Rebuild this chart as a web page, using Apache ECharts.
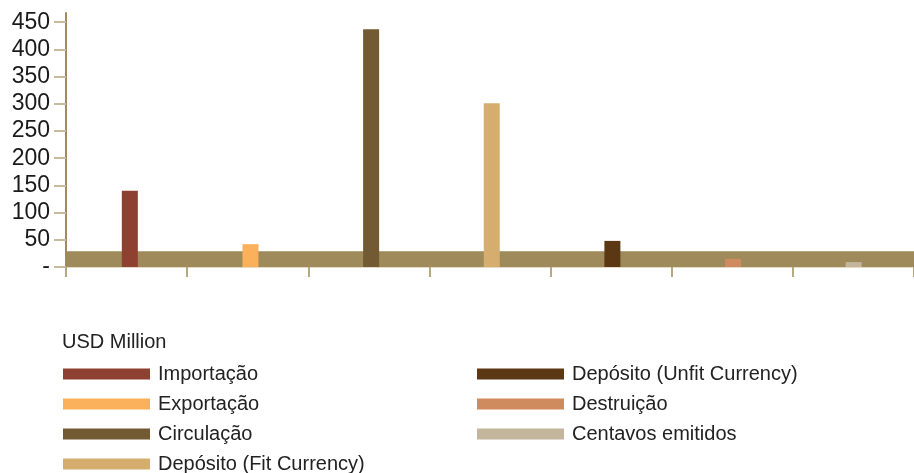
<!DOCTYPE html>
<html>
<head>
<meta charset="utf-8">
<script src="https://cdn.jsdelivr.net/npm/echarts@6/dist/echarts.min.js"></script>
<style>
  html, body { margin: 0; padding: 0; background: #ffffff; }
  #chart { width: 914px; height: 473px; }
</style>
</head>
<body>
<div id="chart"></div>
<script>
// Series names, in legend order
const seriesNames = [
  'Importação',
  'Exportação',
  'Circulação',
  'Depósito (Fit Currency)',
  'Depósito (Unfit Currency)',
  'Destruição',
  'Centavos emitidos'
];
// One value per series (USD Million)
const seriesValues = [140, 42, 437, 301, 48, 15, 9];
// Background band level
const bandValue = 29;
// Y axis tick values
const yTicks = [0, 50, 100, 150, 200, 250, 300, 350, 400, 450];
const seriesColors = ['#8f4131', '#fbb05b', '#725a32', '#d4ad6f', '#5c3714', '#cf8b5d', '#c4b59d'];

const FONT = 'Liberation Sans, Arial, sans-serif';
const Y_MAX = 467;

const chart = echarts.init(document.getElementById('chart'), null, { renderer: 'canvas' });

const categories = seriesNames.map((_, i) => 'c' + i);

const bars = seriesNames.map((name, i) => ({
  name: name,
  type: 'bar',
  stack: 'one',
  barWidth: 16,
  xAxisIndex: 1,
  yAxisIndex: 1,
  z: 3,
  itemStyle: { color: seriesColors[i] },
  data: seriesValues.map((v, j) => (j === i ? v : '-'))
}));

// Horizontal band across the plot
const band = {
  name: 'band',
  type: 'line',
  z: 1,
  data: [],
  silent: true,
  markArea: {
    silent: true,
    itemStyle: { color: '#9e8a5a', opacity: 1 },
    data: [[{ yAxis: 0 }, { yAxis: bandValue }]]
  }
};

const legendBase = {
  orient: 'vertical',
  top: 364,
  height: 130,
  padding: 0,
  itemWidth: 87,
  itemHeight: 11,
  itemGap: 10,
  icon: 'rect',
  selectedMode: false,
  textStyle: { fontFamily: FONT, fontSize: 20, color: '#222', lineHeight: 20, padding: [0, 0, 0, 3] }
};

chart.setOption({
  animation: false,
  title: {
    text: 'USD Million',
    left: 57,
    top: 327,
    textStyle: { fontFamily: FONT, fontSize: 20, fontWeight: 'normal', color: '#222' }
  },
  legend: [
    Object.assign({}, legendBase, { data: seriesNames.slice(0, 4), left: 63 }),
    Object.assign({}, legendBase, { data: seriesNames.slice(4), left: 477 })
  ],
  grid: [
    { left: 66, right: -7, top: 13, bottom: 206, containLabel: false },
    { left: 69.5, right: -2.5, top: 13, bottom: 206, containLabel: false }
  ],
  xAxis: [
    {
      type: 'category',
      gridIndex: 0,
      data: categories,
      boundaryGap: true,
      axisLine: { show: true, lineStyle: { color: '#e4dac2', width: 1 } },
      axisTick: { show: true, length: 10, lineStyle: { color: '#b8a880', width: 2 } },
      axisLabel: { show: false },
      splitLine: { show: false }
    },
    {
      type: 'category',
      gridIndex: 1,
      data: categories,
      boundaryGap: true,
      show: false
    }
  ],
  yAxis: [
    {
      type: 'value',
      gridIndex: 0,
      min: 0,
      max: Y_MAX,
      axisLine: { show: true, lineStyle: { color: '#a08c5a', width: 2 } },
      axisTick: { show: true, length: 12, customValues: yTicks, lineStyle: { color: '#c9bb9a', width: 2 } },
      axisLabel: {
        customValues: yTicks,
        margin: 16,
        fontFamily: FONT,
        fontSize: 23,
        color: '#1a1a1a',
        formatter: v => (v === 0 ? '-' : String(v))
      },
      splitLine: { show: false }
    },
    {
      type: 'value',
      gridIndex: 1,
      min: 0,
      max: Y_MAX,
      show: false,
      splitLine: { show: false }
    }
  ],
  series: [band].concat(bars)
});
</script>
</body>
</html>
